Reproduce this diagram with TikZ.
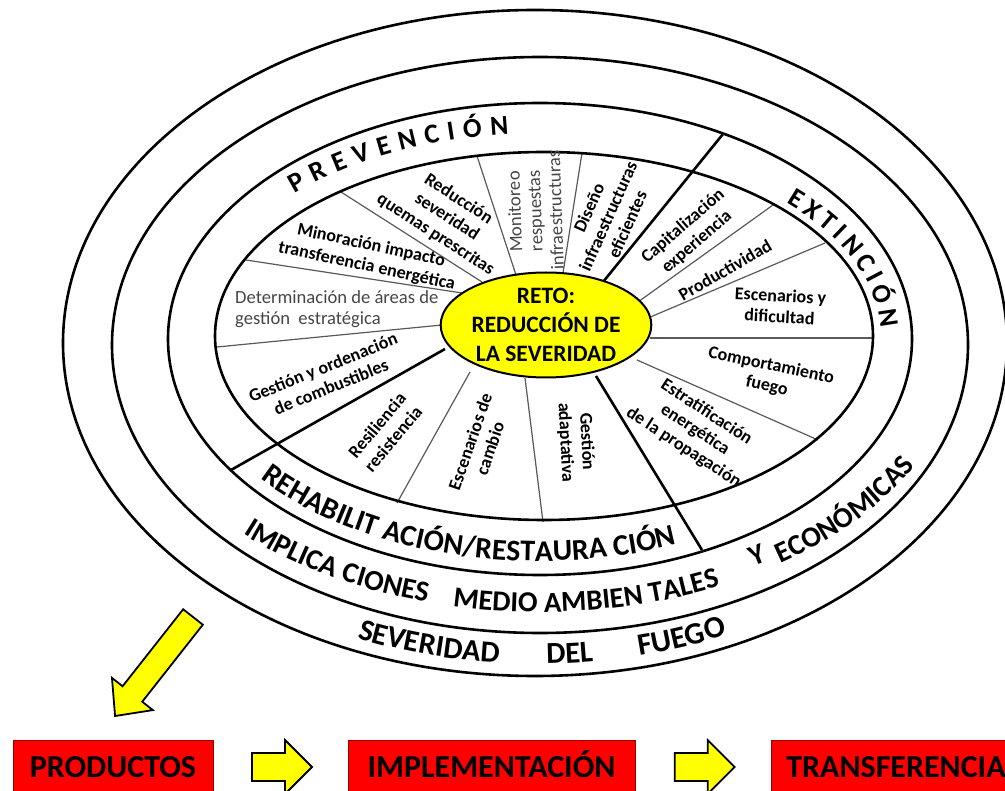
\documentclass[tikz,border=0pt]{standalone}
\usepackage{fontspec}
\setmainfont{Carlito}
\newfontfamily\spacedfont{Carlito}[WordSpace=1.85]
\newfontfamily\narrowspaced{Carlito}[WordSpace=0.8]
\usetikzlibrary{decorations.text,shapes.geometric,calc}
\definecolor{hiyellow}{RGB}{255,255,0}
\definecolor{boxred}{RGB}{255,0,0}
\definecolor{softgray}{RGB}{70,70,70}

\begin{document}
\begin{tikzpicture}[x=1pt,y=-1pt,
  ring/.style={line width=2.6pt},
  major/.style={line width=2.6pt},
  minor/.style={line width=1.2pt,draw=black!65},
  sector/.style={font=\bfseries\fontsize{18}{21}\selectfont,align=center,inner sep=0pt},
  lightsector/.style={font=\fontsize{18.6}{20.5}\selectfont,text=softgray,inner sep=0pt},
  curved/.style={decorate,decoration={text along path,text align={left},text={#1}}},
  redbox/.style={fill=boxred,draw=red!60!black,line width=0.6pt,
    font=\bfseries\fontsize{32}{32}\selectfont,inner sep=0pt,minimum height=54pt,
    text height=20.6pt,text depth=0pt},
  blockarrow/.style={fill=hiyellow,draw=black,line width=1.8pt,line join=miter}
]
\useasboundingbox (0,0) rectangle (1005,791);
\clip (0,0) rectangle (1005,791);

% ---- sector dividers (inner ring) ----
\draw[minor] (442,325) -- (217,347);
\draw[minor] (462,293) -- (246,260);
\draw[minor] (482,282) -- (341,192);
\draw[minor] (516,275) -- (477,156);
\draw[minor] (563,273) -- (582,153);
\draw[minor] (638,302) -- (773,205);
\draw[minor] (648,318) -- (825,243);
\draw[minor] (650,338) -- (873,338);
\draw[minor] (637,360) -- (818,440);
\draw[minor] (525,378) -- (543,522);
\draw[minor] (470,372) -- (397,503);
% ---- main dividers between the three stages ----
\draw[major] (603,282) -- (723,134);
\draw[major] (596,376) -- (702,550);
\draw[major] (445,349) -- (231,470);

% ---- central challenge ----
\node[ellipse,fill=hiyellow,draw=black,line width=2pt,minimum width=208pt,
      minimum height=105pt,inner sep=0pt,align=center,
      font=\bfseries\fontsize{23.5}{29}\selectfont] (reto) at (546,325)
      {RETO:\\REDUCCIÓN DE\\LA SEVERIDAD};

% ---- concentric rings ----
\draw[ring] (535,343) ellipse [x radius=472,y radius=333];
\draw[ring] (540,345) ellipse [x radius=428,y radius=288];
\draw[ring] (540,339) ellipse [x radius=372,y radius=236];
\draw[ring] (544,336) ellipse [x radius=329,y radius=184];

% ---- stage labels along the rings ----
\path[curved={|\spacedfont\bfseries\fontsize{27.5}{28}\selectfont\fontdimen2\font=8.3pt|P R E V E N C I Ó N}]
  (544,336) ++(224.5:350 and 203) arc[start angle=224.5,end angle=300,x radius=350,y radius=203];
\path[curved={|\narrowspaced\bfseries\fontsize{27}{28}\selectfont|E X T I N C I Ó N}]
  (544,336) ++(-44:337 and 192) arc[start angle=-44,end angle=25,x radius=337,y radius=192];
\path[curved={|\bfseries\fontsize{30}{30}\selectfont|REHABILIT ACIÓN/RESTAURA CIÓN}]
  (540,339) ++(141:360 and 222) arc[start angle=141,end angle=20,x radius=360,y radius=222];
\path[curved={|\bfseries\fontsize{29}{29}\selectfont|IMPLICA CIONES}]
  (540,345) ++(135:420 and 267) arc[start angle=135,end angle=80,x radius=420,y radius=267];
\path[curved={|\bfseries\fontsize{29}{29}\selectfont|MEDIO AMBIEN TALES}]
  (540,345) ++(102:420 and 267) arc[start angle=102,end angle=40,x radius=420,y radius=267];
\path[curved={|\bfseries\fontsize{29}{29}\selectfont|Y}]
  (540,345) ++(59:414 and 258) arc[start angle=59,end angle=45,x radius=414,y radius=258];
\path[curved={|\bfseries\fontsize{29}{29}\selectfont|ECONÓMICAS}]
  (540,345) ++(55:420 and 267) arc[start angle=55,end angle=-30,x radius=420,y radius=267];
\path[curved={|\bfseries\fontsize{30.5}{30}\selectfont|SEVERIDAD}]
  (537,345) ++(113.3:455 and 319) arc[start angle=113.3,end angle=80,x radius=455,y radius=319];
\path[curved={|\bfseries\fontsize{30.5}{30}\selectfont|DEL}]
  (537,345) ++(88.8:455 and 319) arc[start angle=88.8,end angle=70,x radius=455,y radius=319];
\path[curved={|\bfseries\fontsize{31}{30}\selectfont|FUEGO}]
  (537,345) ++(77:455 and 319) arc[start angle=77,end angle=50,x radius=455,y radius=319];

% ---- sector texts ----
\node[sector,rotate=-33] (s-quemas) at (447,217) {Reducción\\severidad\\quemas prescritas};
\node[sector,rotate=-12] (s-minor) at (369,256) {Minoración impacto\\transferencia energética};
\node[lightsector,align=left,anchor=west] (s-areas) at (235,309)
  {Determinación de áreas de\\gestión\ \ estratégica};
\node[sector,rotate=22] (s-combust) at (327,377) {Gestión y ordenación\\de combustibles};
\node[lightsector,align=center,rotate=92] (s-monit) at (535,211) {Monitoreo\\respuestas\\infraestructuras};
\node[sector,rotate=66] (s-diseno) at (608,216) {Diseño\\infraestructuras\\eficientes};
\node[sector,rotate=41] (s-capital) at (690,234) {Capitalización\\experiencia};
\node[sector,rotate=30] (s-product) at (725,270) {Productividad};
\node[sector,rotate=-3] (s-escen) at (780,306) {Escenarios y\\dificultad};
\node[sector,rotate=-12] (s-comport) at (769,376) {Comportamiento\\fuego};
\node[sector,rotate=-33] (s-estrat) at (695,430) {Estratificación\\energética\\de la propagación};
\node[sector,rotate=-87] (s-adapt) at (576,442) {Gestión\\adaptativa};
\node[sector,rotate=71] (s-cambio) at (480,445) {Escenarios de\\cambio};
\node[sector,rotate=50] (s-resil) at (385,432) {Resiliencia\\resistencia};

% ---- outcome chain ----
\node[redbox,minimum width=200pt] (prod) at (113,767) {PRODUCTOS};
\node[redbox,minimum width=287pt] (impl) at (491.5,767) {IMPLEMENTACIÓN};
\node[redbox,anchor=west,inner xsep=15pt] (transf) at (771,767) {TRANSFERENCIA};

\begin{scope}[shift={($(prod.east)!0.5!(impl.west)$)}]
  \filldraw[blockarrow] (-28.5,-14) -- (4.5,-14) -- (4.5,-27) -- (31.5,0)
    -- (4.5,27) -- (4.5,14) -- (-28.5,14) -- cycle;
\end{scope}
\begin{scope}[shift={($(impl.east)!0.5!(transf.west)$)}]
  \filldraw[blockarrow] (-28.5,-14) -- (4.5,-14) -- (4.5,-27) -- (31.5,0)
    -- (4.5,27) -- (4.5,14) -- (-28.5,14) -- cycle;
\end{scope}
% diagonal arrow from the rings down to the products
\begin{scope}[shift={(193,617)},rotate=-128.2]
  \filldraw[blockarrow] (0,-12.5) -- (98,-12.5) -- (98,-26) -- (126,0)
    -- (98,26) -- (98,12.5) -- (0,12.5) -- cycle;
\end{scope}
\end{tikzpicture}
\end{document}
